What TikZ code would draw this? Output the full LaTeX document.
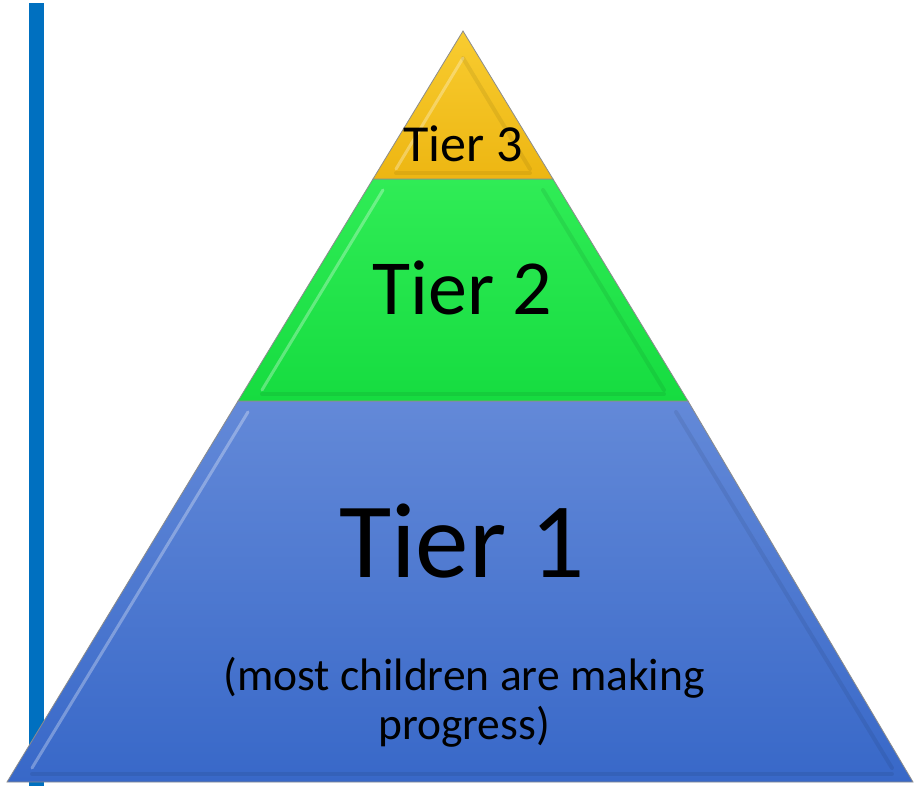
\documentclass[tikz,border=0pt]{standalone}
\usepackage{fontspec}
\setmainfont{Carlito}
\definecolor{barblue}{HTML}{0070C0}
\definecolor{tonetop}{HTML}{6389D8}
\definecolor{tonebot}{HTML}{3868C8}
\definecolor{ttwotop}{HTML}{30EC56}
\definecolor{ttwobot}{HTML}{16DC40}
\definecolor{tthrtop}{HTML}{F8CC30}
\definecolor{tthrbot}{HTML}{EDB612}
\tikzset{
  tierbox/.style={draw=black!45, line width=0.8pt, line join=miter},
  bevelhi/.style={draw=white, opacity=0.3, line width=3pt, line cap=round},
  bevello/.style={draw=black, opacity=0.07, line width=4pt, line cap=round},
  label/.style={inner sep=0pt, anchor=base, text=black}
}
\begin{document}
\begin{tikzpicture}[x=1pt,y=-1pt]
\useasboundingbox (0,0) rectangle (914,786);
% vertical bar
\fill[barblue] (29,3) rectangle (44,786);
% tier 1
\shade[tierbox, top color=tonetop, bottom color=tonebot]
  (238,401) -- (688,401) -- (913,782) -- (7,782) -- cycle;
\draw[bevelhi] (32,768) -- (248,412);
\draw[bevello] (676,412) -- (892,768);
\draw[bevello] (32,774) -- (892,774);
% tier 2
\shade[tierbox, top color=ttwotop, bottom color=ttwobot]
  (373,179) -- (553,179) -- (688,401) -- (238,401) -- cycle;
\draw[bevelhi] (262,390) -- (383,190);
\draw[bevello] (543,190) -- (664,390);
\draw[bevello] (262,394) -- (664,394);
% tier 3
\shade[tierbox, top color=tthrtop, bottom color=tthrbot]
  (463,31) -- (553,179) -- (373,179) -- cycle;
\draw[bevelhi] (396,169) -- (463,58);
\draw[bevello] (463,58) -- (530,169);
\draw[bevello] (396,173) -- (530,173);
% labels
\node[label, font=\fontsize{52}{62}\selectfont] (t3) at (463,162) {Tier 3};
\node[label, font=\fontsize{78}{94}\selectfont] (t2) at (462,315) {Tier 2};
\node[label, font=\fontsize{107}{128}\selectfont] (t1) at (462,577) {Tier 1};
\node[label, font=\fontsize{45.5}{49}\selectfont] (d1) at (464,690) {(most children are making};
\node[label, font=\fontsize{45.5}{49}\selectfont] (d2) at (464,739) {progress)};
\end{tikzpicture}
\end{document}
